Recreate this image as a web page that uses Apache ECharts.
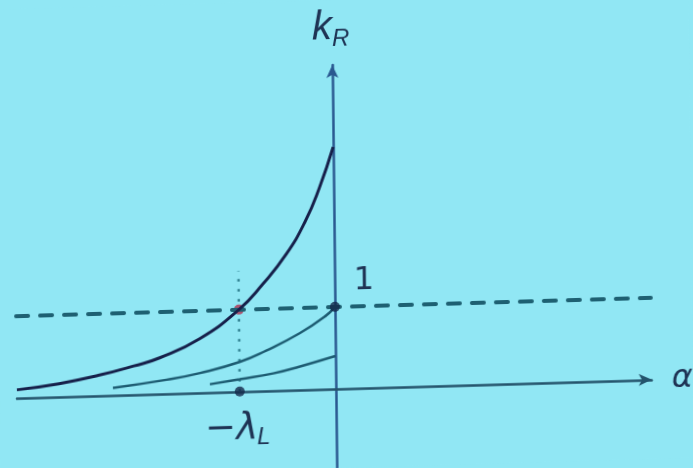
<!DOCTYPE html>
<html>
<head>
<meta charset="utf-8">
<script src="https://cdn.jsdelivr.net/npm/echarts@6/dist/echarts.min.js"></script>
<style>
  html, body { margin: 0; padding: 0; background: #91e7f4; overflow: hidden; }
  #chart {
    width: 693px; height: 468px; background: #91e7f4;
    /* slight skew of the projected slide */
    transform-origin: 336px 389px;
    transform: matrix(1, -0.029, 0.011, 1, 0, 0);
  }
</style>
</head>
<body>
<div id="chart"></div>
<script>
// Axis ranges (alpha in units of lambda_L, k_R in units of the reference level)
const alphaRange = [-3.32, 3.29];
const kRange = [-1.10, 3.95];

// Reference level k_R = 1 and the marked abscissa -lambda_L
const refLevel = 1;
const lambdaL = 1;
const guideTop = 1.47;

// Upper curve
const topAlpha = [-3.32, -2.88, -2.46, -2.1, -1.83, -1.41, -1.0, -0.75, -0.5, -0.3, -0.15, 0];
const topK     = [0.10, 0.16, 0.25, 0.35, 0.44, 0.66, 1.0, 1.30, 1.66, 2.05, 2.45, 2.95];

// Middle curve (ends at k_R = 1 on the vertical axis)
const midAlpha = [-2.32, -1.76, -1.41, -1.0, -0.72, -0.37, -0.1, 0];
const midK     = [0.09, 0.17, 0.24, 0.36, 0.49, 0.69, 0.89, 1.0];

// Lower curve
const lowAlpha = [-1.31, -1.0, -0.65, -0.37, 0];
const lowK     = [0.10, 0.15, 0.21, 0.285, 0.40];

const zip = (xs, ys) => xs.map((x, i) => [x, ys[i]]);

const chart = echarts.init(document.getElementById('chart'), null, { renderer: 'canvas' });

const textColor = '#1e3354';
const curveStyle = { color: '#1d5c72', width: 2.5 };

chart.setOption({
  backgroundColor: '#91e7f4',
  animation: false,
  grid: { left: 17, top: 65, width: 635, height: 414, containLabel: false, outerBoundsMode: 'none' },
  xAxis: {
    type: 'value', min: alphaRange[0], max: alphaRange[1],
    axisLine: { onZero: true, symbol: ['none', 'arrow'], symbolSize: [9, 13],
      lineStyle: { color: '#24546c', width: 2.5 } },
    axisTick: { show: false }, axisLabel: { show: false }, splitLine: { show: false }
  },
  yAxis: {
    type: 'value', min: kRange[0], max: kRange[1],
    axisLine: { onZero: true, symbol: ['none', 'arrow'], symbolSize: [9, 13],
      lineStyle: { color: '#2a5890', width: 2.5 } },
    axisTick: { show: false }, axisLabel: { show: false }, splitLine: { show: false }
  },
  series: [
    {
      name: 'level', type: 'line', data: [], z: 2,
      markLine: {
        silent: true, symbol: 'none', label: { show: false },
        lineStyle: { type: [12, 12], color: '#1e6072', width: 4, cap: 'round' },
        data: [{ yAxis: refLevel }]
      }
    },
    {
      name: 'guide', type: 'line', showSymbol: false, z: 2,
      data: [[-lambdaL, 0], [-lambdaL, guideTop]],
      lineStyle: { type: [2.5, 7.5], color: '#2f8090', width: 2.5 }
    },
    {
      name: 'red', type: 'scatter', z: 3, symbolSize: 10,
      data: [[-lambdaL, refLevel]],
      itemStyle: { color: '#b0304f' }
    },
    {
      name: 'low', type: 'line', smooth: 0.5, showSymbol: false, z: 4,
      data: zip(lowAlpha, lowK), lineStyle: curveStyle
    },
    {
      name: 'mid', type: 'line', smooth: 0.5, showSymbol: false, z: 4,
      data: zip(midAlpha, midK), lineStyle: curveStyle
    },
    {
      name: 'top', type: 'line', smooth: 0.5, showSymbol: false, z: 5,
      data: zip(topAlpha, topK),
      lineStyle: { color: '#16204a', width: 3 }
    },
    {
      name: 'dots', type: 'scatter', z: 6, symbolSize: 10,
      data: [[0, refLevel], [-lambdaL, 0]],
      itemStyle: { color: '#14284a' }
    }
  ]
});

// Labels anchored to data positions
const px = (a, k) => chart.convertToPixel({ gridIndex: 0 }, [a, k]);
const axisTop = px(0, kRange[1]);
const unitPt = px(0, refLevel);
const lamPt = px(-lambdaL, 0);
const axisEnd = px(alphaRange[1], 0);

const txt = (text, x, y, font) => ({
  type: 'text', x, y, z: 20,
  style: { text, font, fill: textColor, align: 'left', verticalAlign: 'middle' }
});

chart.setOption({
  graphic: [
    txt('k', axisTop[0] - 20, axisTop[1] - 37, 'italic 40px "Liberation Sans"'),
    txt('R', axisTop[0] + 0, axisTop[1] - 26, 'italic 24px "Liberation Sans"'),
    txt('1', unitPt[0] + 19, unitPt[1] - 25, '32px "DejaVu Sans"'),
    txt('\u2212\u03bb', lamPt[0] - 35, lamPt[1] + 38, 'italic 37px "DejaVu Sans"'),
    txt('L', lamPt[0] + 17, lamPt[1] + 47, 'italic 24px "Liberation Sans"'),
    txt('\u03b1', axisEnd[0] + 20, axisEnd[1], 'italic 32px "DejaVu Sans"')
  ]
});
</script>
</body>
</html>
